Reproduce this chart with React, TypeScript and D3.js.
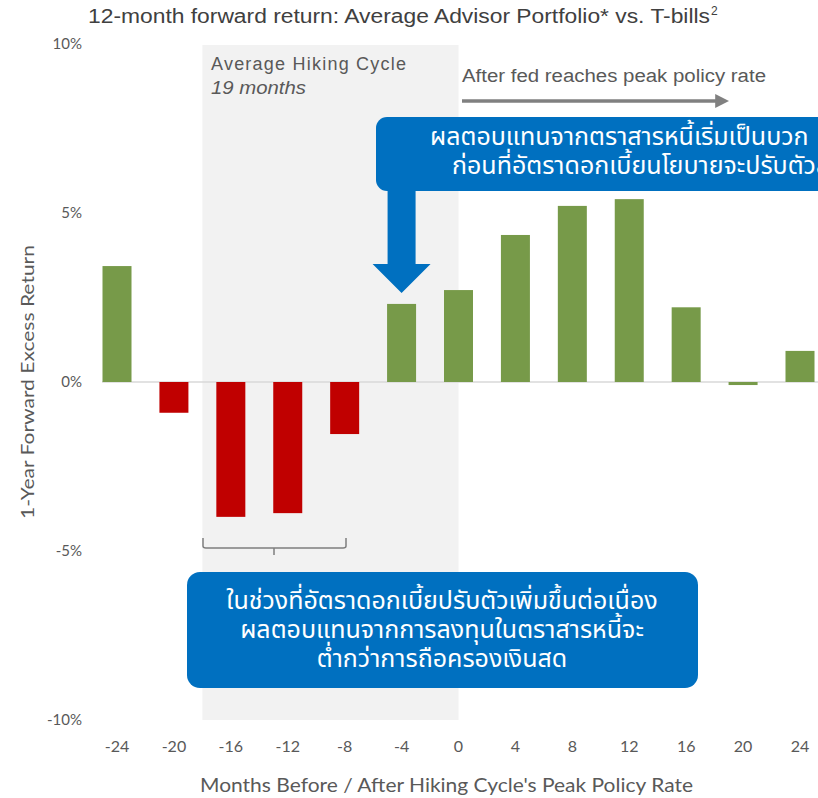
import React from 'react';
import * as d3 from 'd3';

const months = [-24, -20, -16, -12, -8, -4, 0, 4, 8, 12, 16, 20, 24];
const excessReturn = [3.43, -0.91, -3.99, -3.88, -1.54, 2.31, 2.72, 4.35, 5.21, 5.41, 2.21, -0.09, 0.92];
const yTicks = [10, 5, 0, -5, -10];
const hikingStart = -18;
const hikingEnd = 0;

const title = '12-month forward return: Average Advisor Portfolio* vs. T-bills';
const topNote = ['ผลตอบแทนจากตราสารหนี้เริ่มเป็นบวก', 'ก่อนที่อัตราดอกเบี้ยนโยบายจะปรับตัวลง'];
const bottomNote = [
  'ในช่วงที่อัตราดอกเบี้ยปรับตัวเพิ่มขึ้นต่อเนื่อง',
  'ผลตอบแทนจากการลงทุนในตราสารหนี้จะ',
  'ต่ำกว่าการถือครองเงินสด',
];

const W = 818;
const H = 798;
const GREEN = '#779a49';
const RED = '#c00000';
const BLUE = '#0070c0';
const LABEL = '#595959';
const thaiFont = '"Noto Sans Thai", "Noto Sans", sans-serif';
const axisFont = 'Lato, "Open Sans", sans-serif';
const arialFont = '"Liberation Sans", Arial, sans-serif';

export default function App() {
  const x = d3.scaleLinear().domain([-24, 24]).range([117, 800]);
  const y = d3.scaleLinear().domain([-10, 10]).range([720, 44]);
  const barW = 29;

  // big blue arrow from the top callout down to the -4 bar
  const ax = x(-4);
  const arrowPath = `M${ax - 14},188 L${ax + 14},188 L${ax + 14},264 L${ax + 29},264 L${ax},293 L${ax - 29},264 L${ax - 14},264 Z`;

  return (
    <svg width={W} height={H} style={{ position: 'absolute', left: 0, top: 0, background: '#fff' }}>
      <defs>
        <marker id="grayHead" viewBox="0 0 10 10" refX="2" refY="5" markerWidth="4" markerHeight="4" orient="auto">
          <path d="M0,0 L10,5 L0,10 Z" fill="#808080" />
        </marker>
      </defs>

      {/* hiking cycle shading */}
      <rect x={x(hikingStart)} y={y(10) + 1} width={x(hikingEnd) - x(hikingStart)} height={y(-10) - y(10) - 1} fill="#f2f2f2" />

      {/* title */}
      <text x={88} y={23} fontFamily={arialFont} fontSize={20} fill="#404040" textLength={622} lengthAdjust="spacingAndGlyphs">
        {title}
      </text>
      <text x={711} y={15} fontFamily={arialFont} fontSize={12} fill="#404040">2</text>

      {/* y tick labels */}
      {yTicks.map(t => (
        <text key={t} x={82} y={y(t)} dy="0.35em" textAnchor="end" fontFamily={axisFont} fontSize={15} fill={LABEL}>
          {t}%
        </text>
      ))}

      <text
        transform={`translate(34,${y(0)}) rotate(-90)`}
        x={-137}
        fontFamily={axisFont}
        fontSize={18}
        fill={LABEL}
        textLength={274}
        lengthAdjust="spacingAndGlyphs"
      >
        1-Year Forward Excess Return
      </text>

      {/* zero line */}
      <line x1={102} x2={W} y1={y(0)} y2={y(0)} stroke="#d9d9d9" strokeWidth={1.5} />

      {/* bars: negative readings during the hiking cycle are red */}
      {months.map((m, i) => {
        const v = excessReturn[i];
        return (
          <rect
            key={m}
            x={x(m) - barW / 2}
            y={Math.min(y(v), y(0))}
            width={barW}
            height={Math.max(Math.abs(y(v) - y(0)), 2)}
            fill={v < 0 && m < 0 ? RED : GREEN}
          />
        );
      })}

      {/* x tick labels */}
      {months.map(m => (
        <text key={m} x={x(m)} y={752} textAnchor="middle" fontFamily={axisFont} fontSize={16} fill={LABEL}>
          {m}
        </text>
      ))}
      <text x={200} y={792} fontFamily={axisFont} fontSize={19} fill={LABEL} textLength={493} lengthAdjust="spacingAndGlyphs">
        Months Before / After Hiking Cycle's Peak Policy Rate
      </text>

      {/* hiking cycle label */}
      <text x={211} y={70} fontFamily={arialFont} fontSize={18} fill={LABEL} textLength={195} lengthAdjust="spacing">
        Average Hiking Cycle
      </text>
      <text x={211} y={94} fontFamily={arialFont} fontSize={18} fontStyle="italic" fill={LABEL} textLength={95} lengthAdjust="spacingAndGlyphs">
        19 months
      </text>

      {/* after peak label + arrow */}
      <text x={462} y={82} fontFamily={arialFont} fontSize={18} fill={LABEL} textLength={304} lengthAdjust="spacingAndGlyphs">
        After fed reaches peak policy rate
      </text>
      <line x1={462} x2={718} y1={101} y2={101} stroke="#808080" strokeWidth={3.5} markerEnd="url(#grayHead)" />

      {/* bracket */}
      <path
        d="M203,538 L203,546 Q203,548 206,548 L343,548 Q346,548 346,546 L346,538 M274,548 L274,555"
        fill="none"
        stroke="#7f7f7f"
        strokeWidth={1.5}
      />

      {/* top callout */}
      <path d={arrowPath} fill={BLUE} />
      <rect x={376} y={117} width={470} height={74} rx={11} fill={BLUE} />
      {topNote.map((t, i) => (
        <text key={i} x={i === 0 ? 430 : 452} y={145 + i * 29} fontFamily={thaiFont} fontSize={25} fill="#fff">
          {t}
        </text>
      ))}

      {/* bottom callout */}
      <rect x={187} y={572} width={511} height={116} rx={13} fill={BLUE} />
      {bottomNote.map((t, i) => (
        <text key={i} x={442} y={609 + i * 29} textAnchor="middle" fontFamily={thaiFont} fontSize={25} fill="#fff">
          {t}
        </text>
      ))}
    </svg>
  );
}
